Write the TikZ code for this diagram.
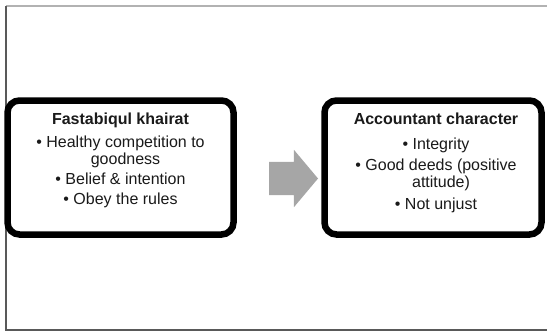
\documentclass[tikz,border=0pt]{standalone}
\usepackage{fontspec}
\setmainfont{Liberation Sans}
\usepackage{tikz}
\usetikzlibrary{calc,positioning,shapes.arrows,shadows}

\definecolor{arrowgray}{HTML}{A6A6A6}
\definecolor{textdark}{HTML}{1A1A1A}

\tikzset{
  boxnode/.style={draw=black, line width=6.5pt, rounded corners=12pt, fill=white,
    drop shadow={opacity=0.25, shadow xshift=1pt, shadow yshift=-3pt}},
  boxtext/.style={align=center, text=textdark, inner sep=0pt,
    font=\fontsize{16}{17}\selectfont},
}

\begin{document}
\begin{tikzpicture}[x=1pt, y=1pt]
    \useasboundingbox (0,0) rectangle (547,-332);

    % Frame lines
    \draw[gray!60, line width=1.5pt] (6,-6) -- (547,-6);
    \draw[black!65, line width=1.8pt] (6,-6) -- (6,-330) -- (547,-330);

    % Left box
    \node[boxnode, minimum width=226pt, minimum height=134pt] (fk) at (120.5,-167.5) {};
    \node[boxtext, anchor=north] (fkText) at ($(fk.north)+(0,-15)$)
        {\textbf{Fastabiqul khairat}\\[6pt]
         • Healthy competition to\\ \phantom{• }goodness\\[3pt]
         • Belief \& intention\\[3pt]
         • Obey the rules};

    % Right box
    \node[boxnode, minimum width=217pt, minimum height=134pt] (ac) at (433,-167.5) {};
    \node[boxtext, anchor=north] (acText) at ($(ac.north)+(3,-15)$)
        {\textbf{Accountant character}\\[8pt]
         • Integrity\\[4pt]
         • Good deeds (positive\\ \phantom{• }attitude)\\[5pt]
         • Not unjust};

    % Block arrow between the boxes
    \node[single arrow, fill=arrowgray, draw=none, inner xsep=0pt, inner ysep=16.5pt,
          single arrow head extend=12pt, single arrow tip angle=100,
          minimum height=49pt] (arr) at (286.5,-178.5) {};
\end{tikzpicture}
\end{document}
